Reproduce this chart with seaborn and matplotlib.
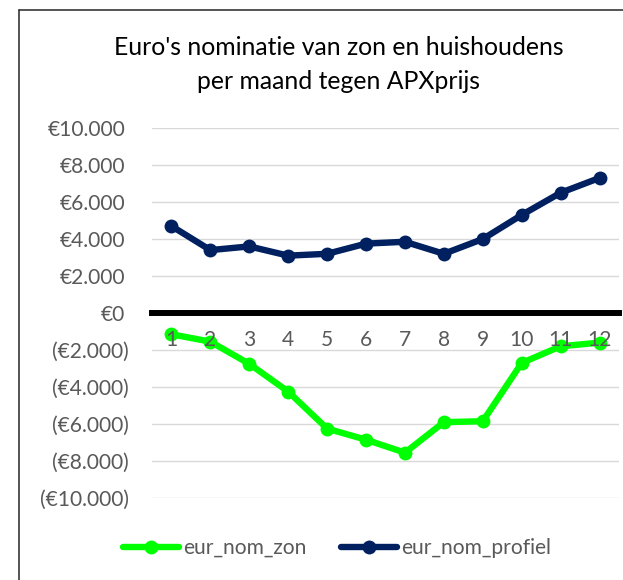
import matplotlib
matplotlib.use("Agg")
import matplotlib.pyplot as plt
import seaborn as sns
import numpy as np
from matplotlib.lines import Line2D

# ---- data ----
months = [1, 2, 3, 4, 5, 6, 7, 8, 9, 10, 11, 12]
eur_nom_zon = [-1150, -1550, -2750, -4250, -6250, -6850, -7550, -5900, -5850, -2700, -1800, -1600]
eur_nom_profiel = [4700, 3400, 3600, 3100, 3200, 3750, 3850, 3200, 4000, 5300, 6500, 7300]
series_names = ["eur_nom_zon", "eur_nom_profiel"]
y_ticks = [-10000, -8000, -6000, -4000, -2000, 0, 2000, 4000, 6000, 8000, 10000]
title_lines = ["Euro's nominatie van zon en huishoudens", "per maand tegen APXprijs"]

def eur(v):
    s = "€{:,}".format(abs(int(v))).replace(",", ".")
    return "({})".format(s) if v < 0 else s

sns.set_theme(style="white")
FONT = ["Lato", "DejaVu Sans"]
plt.rcParams["font.family"] = FONT

W, H, DPI = 623, 580, 100
fig = plt.figure(figsize=(W / DPI, H / DPI), dpi=DPI)
fig.patch.set_facecolor("white")

L, R, T, B = 152, 619, 128, 498
ax = fig.add_axes([L / W, 1 - B / H, (R - L) / W, (B - T) / H])

GREEN = "#00FF00"
NAVY = "#002060"
GRAY = "#595959"

for vals, name, col in [(eur_nom_zon, series_names[0], GREEN), (eur_nom_profiel, series_names[1], NAVY)]:
    sns.lineplot(x=months, y=vals, ax=ax, color=col, marker="o", markersize=10,
                 linewidth=4.6, markeredgewidth=0, label=name,
                 solid_joinstyle="round", solid_capstyle="round")

ax.set_xlim(0.5, 12.5)
ax.set_ylim(-10000, 10000)
ax.set_yticks(y_ticks)
ax.set_yticklabels([eur(v) for v in y_ticks])
ax.set_xticks(months)
ax.set_xticklabels([str(m) for m in months])
ax.grid(axis="y", color="#D9D9D9", linewidth=1.0)
ax.grid(axis="x", visible=False)
ax.set_axisbelow(True)
ax.xaxis.set_zorder(5)   # month labels drawn over the lines, as in the original
for s in ["top", "right", "left"]:
    ax.spines[s].set_visible(False)
ax.spines["bottom"].set_position(("data", 0))
ax.spines["bottom"].set_color("black")
ax.spines["bottom"].set_linewidth(4.3)
ax.spines["bottom"].set_zorder(4)
ax.tick_params(axis="both", length=0, colors=GRAY)
ax.tick_params(axis="x", pad=12)
ax.set_xlabel("")
ax.set_ylabel("")

leg0 = ax.get_legend()
if leg0 is not None:
    leg0.remove()

# Title
t1 = fig.text(339 / W, 1 - 55 / H, title_lines[0], ha="center", va="baseline", color="black", fontsize=17)
t2 = fig.text(339 / W, 1 - 89 / H, title_lines[1], ha="center", va="baseline", color="black", fontsize=17)

# border (left and top visible, right/bottom clipped)
fig.add_artist(Line2D([19 / W, 19 / W], [0, 1 - 10 / H], transform=fig.transFigure, color="#262626", lw=1.1))
fig.add_artist(Line2D([19 / W, 1], [1 - 10 / H, 1 - 10 / H], transform=fig.transFigure, color="#262626", lw=1.1))

# ---- autofit font sizes ----
fig.canvas.draw()
r = fig.canvas.get_renderer()
w1 = t1.get_window_extent(r).width
tfs = 17 * 448 / w1
t1.set_fontsize(tfs)
t2.set_fontsize(tfs)

ylab = ax.get_yticklabels()[-1]
ytfs = ylab.get_fontsize() * 78 / ylab.get_window_extent(r).width
ax.tick_params(axis="both", labelsize=ytfs)

fig.canvas.draw()
# per-tick pad: positive labels end at x=125, negative at x=129
for tk, v in zip(ax.yaxis.get_major_ticks(), y_ticks):
    tk.set_pad((L - (129 if v < 0 else 125)) / DPI * 72)

handles, labels = ax.get_legend_handles_labels()
F = ytfs * DPI / 72
leg = fig.legend(handles, labels, loc="center", bbox_to_anchor=(337 / W, 1 - 548 / H), ncol=2,
                 frameon=False, fontsize=ytfs, handlelength=56 / F, handletextpad=4 / F,
                 columnspacing=34 / F, borderpad=0)
for t in leg.get_texts():
    t.set_color(GRAY)

fig.savefig("out.png", dpi=DPI, facecolor="white")
